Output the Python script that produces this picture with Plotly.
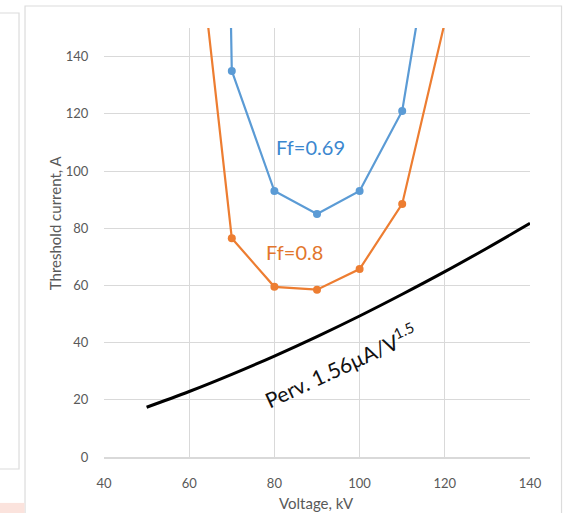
import plotly.graph_objects as go

# ---- data ----
volt_069 = [69.7, 70, 80, 90, 100, 110, 115]
curr_069 = [160, 135, 93, 85, 93, 121, 166]

volt_08 = [60, 70, 80, 90, 100, 110, 120]
curr_08 = [210, 76.5, 59.5, 58.5, 65.7, 88.5, 152]

volt_perv = [50, 60, 70, 80, 90, 100, 110, 120, 130, 140]
curr_perv = [17.4, 22.9, 28.9, 35.3, 42.1, 49.3, 56.9, 64.8, 73.1, 81.7]

x_ticks = [40, 60, 80, 100, 120, 140]
y_ticks = [0, 20, 40, 60, 80, 100, 120, 140]

BLUE = "#5b9bd5"
ORANGE = "#ed7d31"
GRID = "#d9d9d9"
TXT = "#595959"
FONT = "Lato"

fig = go.Figure()
fig.add_trace(go.Scatter(x=volt_perv, y=curr_perv, mode="lines",
                         line=dict(color="#000000", width=3), line_shape="spline"))
fig.add_trace(go.Scatter(x=volt_08, y=curr_08, mode="lines+markers",
                         line=dict(color=ORANGE, width=2.2),
                         marker=dict(color=ORANGE, size=8)))
fig.add_trace(go.Scatter(x=volt_069, y=curr_069, mode="lines+markers",
                         line=dict(color=BLUE, width=2.2),
                         marker=dict(color=BLUE, size=8)))

annotations = [
    dict(x=88.5, y=108.5, xref="x", yref="y", text="Ff=0.69", showarrow=False,
         font=dict(family=FONT, size=20, color="#3b87cf")),
    dict(x=84.8, y=71.8, xref="x", yref="y", text="Ff=0.8", showarrow=False,
         font=dict(family=FONT, size=20, color="#e2762c")),
    dict(x=95.5, y=32.0, xref="x", yref="y", text="Perv. 1.56µA/V<sup>1.5</sup>",
         showarrow=False, textangle=-25,
         font=dict(family=FONT, size=21, color="#111111")),
    dict(x=-0.115, y=0.545, xref="paper", yref="paper", text="Threshold current, A",
         xanchor="center", yanchor="middle",
         showarrow=False, textangle=-90,
         font=dict(family=FONT, size=15, color=TXT)),
    dict(x=0.498, y=-0.107, xref="paper", yref="paper", text="Voltage, kV",
         xanchor="center", yanchor="middle",
         showarrow=False, font=dict(family=FONT, size=15, color=TXT)),
]

shapes = [
    # chart frame
    dict(type="rect", xref="paper", yref="paper", x0=-0.1854, x1=1.074,
         y0=-0.14, y1=1.0513, line=dict(color="#dcdcdc", width=1.2)),
    # left neighbour box
    dict(type="rect", xref="paper", yref="paper", x0=-0.26, x1=-0.1995,
         y0=-0.028, y1=1.035, line=dict(color="#dcdcdc", width=1.2)),
    # pink strip
    dict(type="rect", xref="paper", yref="paper", x0=-0.26, x1=-0.1865,
         y0=-0.14, y1=-0.107, line=dict(width=0), fillcolor="#fbe3dd"),
]

fig.update_layout(
    width=569, height=513,
    margin=dict(l=104, r=39, t=28, b=56),
    paper_bgcolor="white", plot_bgcolor="white",
    showlegend=False,
    annotations=annotations,
    shapes=shapes,
    font=dict(family=FONT, color=TXT),
)
fig.update_xaxes(range=[40, 140], tickvals=x_ticks, ticktext=[str(v) for v in x_ticks],
                 showgrid=True, gridcolor=GRID, gridwidth=1,
                 showline=True, linecolor=GRID, linewidth=1.5, zeroline=False,
                 ticks="outside", ticklen=14, tickcolor="rgba(0,0,0,0)",
                 tickfont=dict(family=FONT, size=13, color=TXT))
fig.update_yaxes(range=[0, 150], tickvals=y_ticks, ticktext=[str(v) for v in y_ticks],
                 showgrid=True, gridcolor=GRID, gridwidth=1,
                 showline=False, zeroline=False,
                 ticks="outside", ticklen=12, tickcolor="rgba(0,0,0,0)",
                 tickfont=dict(family=FONT, size=13, color=TXT))

fig.write_html("out.html", config={"displayModeBar": False},
               post_script="document.body.style.margin='0px';document.body.style.overflow='hidden';")
